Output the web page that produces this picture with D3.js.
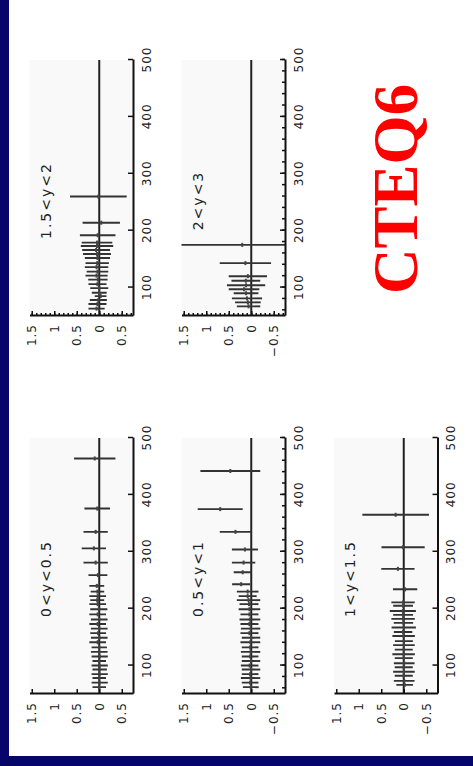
<!DOCTYPE html>
<html>
<head>
<meta charset="utf-8">
<script src="https://cdn.jsdelivr.net/npm/d3@7"></script>
<style>
  html, body { margin: 0; padding: 0; background: #fff; }
  svg { display: block; }
</style>
</head>
<body>
<svg id="chart" width="473" height="766"></svg>
<script>
const svg = d3.select("#chart");

// panel titles
const labels = ["1.5<y<2", "2<y<3", "0<y<0.5", "0.5<y<1", "1<y<1.5"];

// tick labels (two of the panels print the last one without its minus sign)
const xTicks = [100, 200, 300, 400, 500];
const yTicks = [1.5, 1, 0.5, 0, -0.5];
const yTickTextPlain = ["1.5", "1", "0.5", "0", "0.5"];
const yTickTextMinus = ["1.5", "1", "0.5", "0", "\u22120.5"];

// 1.5<y<2
const massA = [260, 214, 192, 179, 173, 166, 159, 152, 143, 136, 128, 121, 114, 106, 99, 91, 85, 78, 71, 63];
const valA  = [0.02, -0.045, 0.035, 0.05, 0.05, 0.07, 0.05, 0.04, 0.045, 0.06, 0.04, 0.06, 0.03, 0.04, 0.0, 0.0, -0.03, 0.02, 0.04, 0.06];
const errA  = [0.63, 0.415, 0.395, 0.34, 0.36, 0.31, 0.31, 0.28, 0.26, 0.26, 0.24, 0.245, 0.215, 0.2, 0.2, 0.165, 0.13, 0.19, 0.2, 0.18];

// 2<y<3
const massB = [175, 143, 120, 112, 104, 97, 90, 81, 74, 67];
const valB  = [0.2, 0.13, 0.075, 0.12, 0.115, 0.16, 0.115, 0.095, 0.075, 0.06];
const errB  = [1.6, 0.57, 0.425, 0.32, 0.425, 0.34, 0.275, 0.335, 0.285, 0.26];

// 0<y<0.5
const massC = [464, 376, 335, 306, 281, 259, 240, 230, 222, 215, 208, 199, 190, 181, 173, 165, 157, 149, 141, 132, 124, 116, 108, 100, 93, 85, 78, 70, 62];
const valC  = [0.1, 0.045, 0.08, 0.12, 0.08, 0.03, 0.055, 0.04, 0.035, 0.045, 0.035, 0.01, 0.035, 0.0, 0.035, 0.0, 0.025, 0.0, 0.035, 0.0, 0.0, -0.01, 0.0, -0.01, -0.01, -0.01, 0.0, -0.01, 0.0];
const errC  = [0.46, 0.285, 0.27, 0.27, 0.27, 0.21, 0.165, 0.15, 0.185, 0.155, 0.185, 0.19, 0.185, 0.185, 0.185, 0.185, 0.175, 0.185, 0.185, 0.17, 0.185, 0.18, 0.15, 0.18, 0.16, 0.18, 0.15, 0.18, 0.15];

// 0.5<y<1
const massD = [442, 375, 335, 304, 281, 264, 243, 230, 222, 215, 208, 199, 190, 181, 173, 165, 157, 149, 141, 132, 124, 116, 108, 100, 93, 85, 78, 70, 62];
const valD  = [0.465, 0.69, 0.35, 0.14, 0.17, 0.19, 0.225, 0.08, 0.08, 0.06, 0.05, 0.04, 0.04, 0.03, 0.04, 0.015, 0.04, 0.005, 0.02, 0.025, 0.015, 0.025, 0.005, 0.035, 0.005, 0.025, 0.015, 0.025, 0.01];
const errD  = [0.665, 0.5, 0.35, 0.29, 0.26, 0.2, 0.2, 0.24, 0.2, 0.26, 0.21, 0.24, 0.2, 0.23, 0.2, 0.215, 0.2, 0.205, 0.22, 0.185, 0.215, 0.185, 0.205, 0.195, 0.205, 0.185, 0.215, 0.185, 0.175];

// 1<y<1.5
const massE = [365, 308, 270, 234, 211, 205, 196, 189, 182, 175, 167, 159, 152, 143, 136, 128, 120, 113, 104, 97, 89, 82, 73, 66];
const valE  = [0.18, 0.015, 0.13, -0.03, 0.015, 0.015, 0.02, 0.015, 0.015, 0.007, 0.0, 0.015, 0.003, -0.003, -0.004, 0.0, 0.003, 0.0, -0.01, 0.0, -0.004, 0.0, -0.01, -0.02];
const errE  = [0.74, 0.48, 0.37, 0.27, 0.26, 0.22, 0.29, 0.22, 0.26, 0.215, 0.27, 0.205, 0.25, 0.2, 0.24, 0.2, 0.25, 0.2, 0.23, 0.2, 0.24, 0.2, 0.23, 0.185];

// plot size in the chart's own (unrotated) frame
const W = 256, H = 103.5;

const panels = [
  { label: labels[0], mass: massA, val: valA, err: errA, yText: yTickTextPlain, tx: 29.5,  ty: 316, minorX: false, minorY: true },
  { label: labels[1], mass: massB, val: valB, err: errB, yText: yTickTextMinus, tx: 181.5, ty: 316, minorX: true,  minorY: true },
  { label: labels[2], mass: massC, val: valC, err: errC, yText: yTickTextPlain, tx: 29.5,  ty: 694, minorX: false, minorY: false },
  { label: labels[3], mass: massD, val: valD, err: errD, yText: yTickTextMinus, tx: 181.5, ty: 694, minorX: true,  minorY: false },
  { label: labels[4], mass: massE, val: valE, err: errE, yText: yTickTextMinus, tx: 334,   ty: 694, minorX: false, minorY: false }
];

// navy frame on the left and bottom
svg.append("rect").attr("x", 0).attr("y", 0).attr("width", 9).attr("height", 766).attr("fill", "#06066a");
svg.append("rect").attr("x", 0).attr("y", 756).attr("width", 473).attr("height", 10).attr("fill", "#06066a");

panels.forEach(drawPanel);

// big title, rotated like the rest of the page
svg.append("text")
  .attr("transform", "translate(417,189) rotate(-90)")
  .attr("text-anchor", "middle")
  .style("font-family", "'Liberation Serif', 'Times New Roman', serif")
  .style("font-weight", "bold")
  .style("font-size", "63px")
  .style("fill", "#ff0000")
  .text("CTEQ6");

function drawPanel(p, i) {
  // whole panel is drawn upright, then turned a quarter turn
  const g = svg.append("g")
    .attr("transform", `translate(${p.tx},${p.ty}) rotate(-90)`);

  const x = d3.scaleLinear().domain([50, 500]).range([0, W]);
  const y = d3.scaleLinear().domain([-0.75, 1.55]).range([H, 0]);

  g.append("rect")
    .attr("width", W)
    .attr("height", H)
    .attr("fill", "#f9f9f9");

  g.append("clipPath")
    .attr("id", "clip" + i)
    .append("rect")
    .attr("width", W)
    .attr("height", H);

  const pts = p.mass.map((m, k) => ({ m: m, v: p.val[k], e: p.err[k] }));

  const plot = g.append("g").attr("clip-path", `url(#clip${i})`);

  // zero line
  plot.append("line")
    .attr("x1", x(50)).attr("x2", x(500))
    .attr("y1", y(0)).attr("y2", y(0))
    .attr("stroke", "#222")
    .attr("stroke-width", 2);

  // error bars
  plot.selectAll(".err")
    .data(pts)
    .enter()
    .append("line")
    .attr("class", "err")
    .attr("x1", d => x(d.m)).attr("x2", d => x(d.m))
    .attr("y1", d => y(d.v - d.e)).attr("y2", d => y(d.v + d.e))
    .attr("stroke", "#333")
    .attr("stroke-width", 1.9);

  // points
  plot.selectAll(".pt")
    .data(pts)
    .enter()
    .append("rect")
    .attr("class", "pt")
    .attr("x", d => x(d.m) - 2)
    .attr("y", d => y(d.v) - 1)
    .attr("width", 4)
    .attr("height", 2)
    .attr("fill", "#444");

  // minor ticks
  if (p.minorX) {
    g.append("g")
      .attr("transform", `translate(0,${H})`)
      .call(d3.axisBottom(x).tickValues(d3.range(60, 501, 20)).tickSize(-3).tickFormat(""))
      .call(a => a.select(".domain").remove());
  }
  if (p.minorY) {
    g.append("g")
      .call(d3.axisLeft(y).tickValues(d3.range(-7, 16).map(d => d / 10)).tickSize(-3).tickFormat(""))
      .call(a => a.select(".domain").remove());
  }

  const xAxis = g.append("g")
    .attr("transform", `translate(0,${H})`)
    .call(d3.axisBottom(x).tickValues(xTicks).tickSize(-5).tickSizeOuter(0).tickPadding(9));

  const yAxis = g.append("g")
    .call(d3.axisLeft(y).tickValues(yTicks).tickFormat((d, k) => p.yText[k]).tickSize(-5).tickSizeOuter(0).tickPadding(8));

  [xAxis, yAxis].forEach(a => {
    a.select(".domain").attr("stroke", "#111").attr("stroke-width", 2);
    a.selectAll("text")
      .style("font-family", "'DejaVu Sans', sans-serif")
      .style("font-size", "12px")
      .style("letter-spacing", "1px")
      .style("fill", "#222");
  });
  g.selectAll(".tick line").attr("stroke", "#111").attr("stroke-width", 1.5);

  g.append("text")
    .attr("x", x(253))
    .attr("y", y(1.08))
    .attr("text-anchor", "middle")
    .style("font-family", "'DejaVu Sans', sans-serif")
    .style("font-size", "14px")
    .style("letter-spacing", "2px")
    .style("fill", "#222")
    .text(p.label);
}
</script>
</body>
</html>
